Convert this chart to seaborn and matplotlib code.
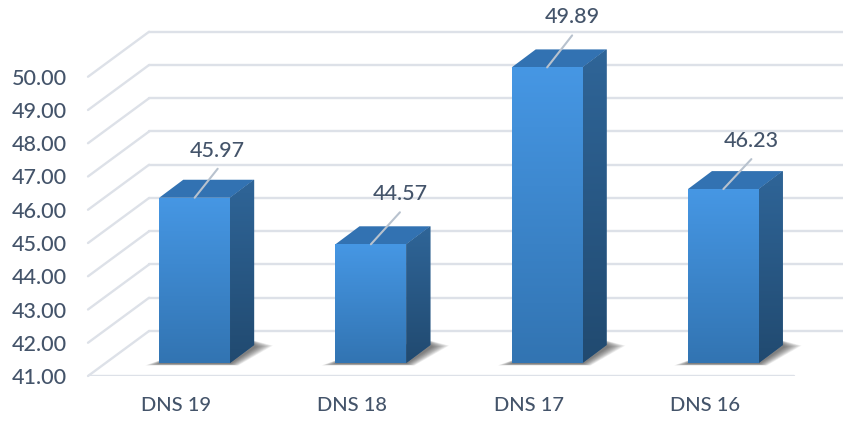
import numpy as np
import pandas as pd
import matplotlib
matplotlib.use("Agg")
import matplotlib.pyplot as plt
from matplotlib.colors import LinearSegmentedColormap
from matplotlib.patches import Polygon
import seaborn as sns

categories = ["DNS 19", "DNS 18", "DNS 17", "DNS 16"]
values = [45.97, 44.57, 49.89, 46.23]
y_ticks = [41, 42, 43, 44, 45, 46, 47, 48, 49, 50]

W, H = 843, 421
X_PX = 176.0   # px per category
Y_PX = 33.25   # px per unit
TEXT = "#44546A"
GRID = "#DDE1E8"
# the labels were dragged by hand in the original, so each has its own offset (px)
LABEL_DX = [23, 29, 25, 28]
LABEL_DY = [47, 50, 50, 48]

sns.set_theme(style="white")
plt.rcParams["font.family"] = ["Lato", "DejaVu Sans"]
plt.rcParams["font.weight"] = "medium"


def dx(px):
    return px / X_PX


def dy(px):
    return px / Y_PX


def gradient(ax, c_top, c_bottom, x0, x1, y0, y1, clip):
    cmap = LinearSegmentedColormap.from_list("g", [c_top, c_bottom])
    im = ax.imshow(np.linspace(0, 1, 128).reshape(-1, 1), cmap=cmap, aspect="auto",
                   extent=(x0, x1, y0, y1), origin="upper", zorder=clip.get_zorder() + 0.1)
    im.set_clip_path(clip)


fig = plt.figure(figsize=(W / 100, H / 100), dpi=100)
ax = fig.add_axes([88 / W, (H - 376) / H, (W - 88) / W, 376 / H])

df = pd.DataFrame({"name": categories, "value": values})
sns.barplot(data=df, x="name", y="value", color="#4697E4", width=0.402, saturation=1, ax=ax, zorder=4)

base = y_ticks[0]
x_min, x_max = -0.5, (W - 177) / X_PX
y_max = base + 376 / Y_PX

# grid: wall lines, left side diagonals, front floor line
for t in y_ticks:
    ax.plot([x_min + dx(61), x_max], [t + dy(45)] * 2, color=GRID, lw=1.7, zorder=1)
    ax.plot([x_min, x_min + dx(61)], [t, t + dy(45)], color=GRID, lw=1.7, zorder=1, clip_on=False)
ax.plot([x_min, x_min + dx(705)], [base, base], color=GRID, lw=1.7, zorder=1)

for i, (patch, v) in enumerate(zip(ax.patches, values)):
    left = i - 0.201 + dx(18.5)
    right = left + 0.402
    bottom = base + dy(13)
    top = v + dy(13)
    patch.set_x(left)
    patch.set_y(bottom)
    patch.set_height(v - base)
    patch.set_edgecolor("none")
    gradient(ax, "#4697E4", "#3274B2", left, right, bottom, top, patch)

    # soft shadow on the floor, stacked thin layers so it fades out
    for grow in range(14, -1, -1):
        ax.add_patch(Polygon([(left - dx(grow), bottom - dy(1 + grow * 0.1)),
                              (right + dx(grow * 0.6), bottom - dy(1 + grow * 0.1)),
                              (right + dx(26 + grow * 1.2), bottom + dy(16 + grow * 0.1)),
                              (right + dx(20), bottom + dy(22 + grow * 0.1)),
                              (left + dx(10), bottom + dy(6))],
                             closed=True, fc="#2A2A2A", ec="none", alpha=0.055, zorder=2))

    # side face
    side = Polygon([(right, bottom), (right + dx(24), bottom + dy(18)),
                    (right + dx(24), top + dy(18)), (right, top)],
                   closed=True, fc="#2A5C8C", ec="none", zorder=3)
    ax.add_patch(side)
    gradient(ax, "#2F6598", "#214A70", right, right + dx(24), bottom, top + dy(18), side)

    # top face
    ax.add_patch(Polygon([(left, top), (right, top), (right + dx(24), top + dy(18)),
                          (left + dx(24), top + dy(18))],
                         closed=True, fc="#3272B2", ec="none", zorder=3))

    # leader line and label
    xc = i + dx(18.5)
    ax.plot([xc, xc + dx(LABEL_DX[i])], [top, top + dy(LABEL_DY[i] - 18)], color="#B8C2CE", lw=1.5, zorder=6)
    ax.text(xc + dx(LABEL_DX[i]), top + dy(LABEL_DY[i]), f"{v:.2f}", color=TEXT, fontsize=15.5,
            ha="center", va="center", zorder=6, clip_on=False)

ax.set_xlim(x_min, x_max)
ax.set_ylim(base, y_max)
ax.set_xlabel("")
ax.set_ylabel("")
ax.set_yticks(y_ticks)
ax.set_yticklabels([f"{t:.2f}" for t in y_ticks])
ax.tick_params(axis="y", length=0, pad=15, labelsize=15.5, labelcolor=TEXT)
ax.tick_params(axis="x", length=0, pad=15, labelsize=14.5, labelcolor=TEXT)
sns.despine(ax=ax, left=True, bottom=True)
ax.patch.set_alpha(0)

fig.savefig("out.png", dpi=100)
